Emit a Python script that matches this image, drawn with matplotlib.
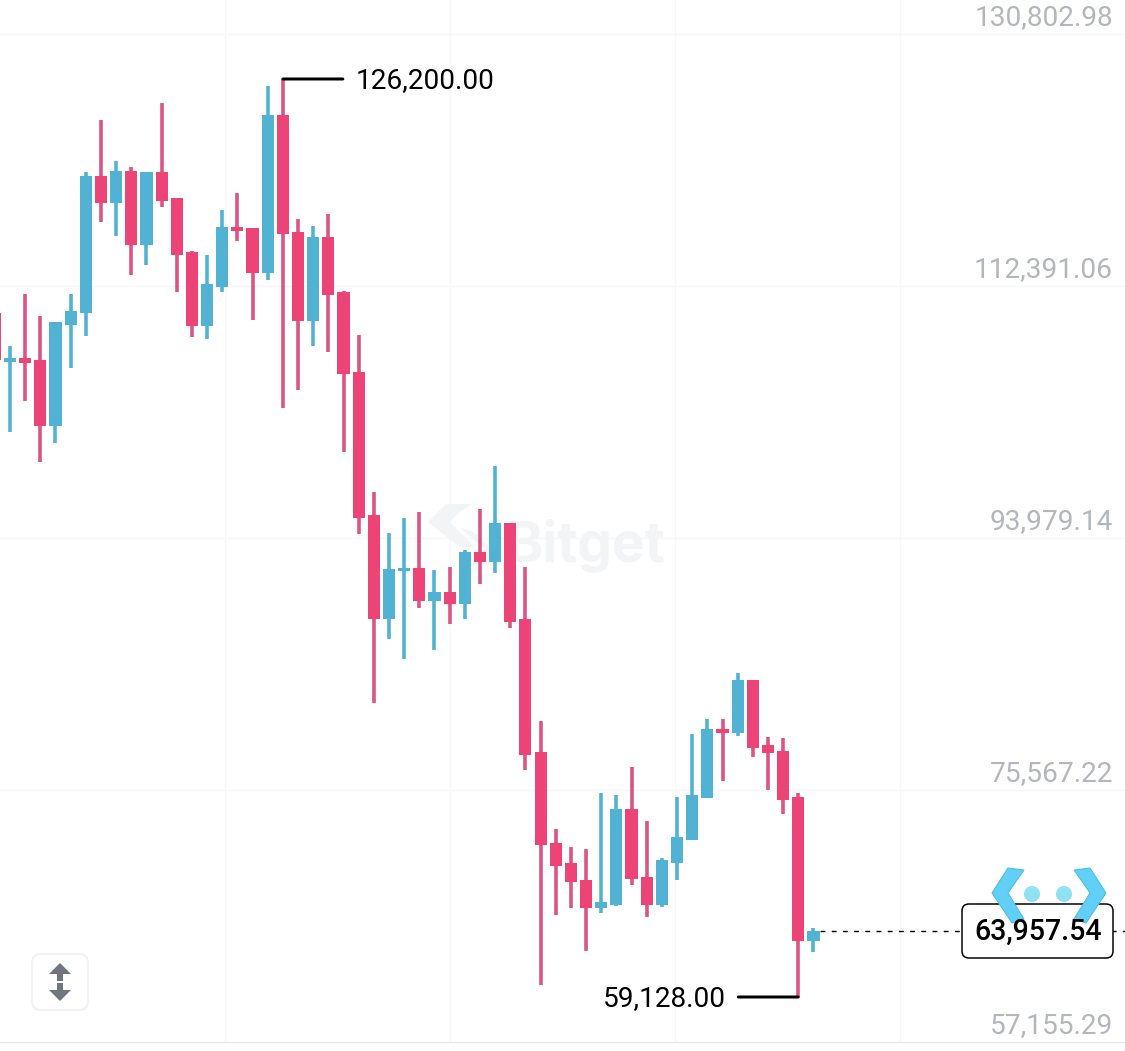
"""
BTC candlestick screenshot rebuilt with matplotlib.
"""

import matplotlib

matplotlib.use("Agg")
import matplotlib.pyplot as plt
import numpy as np
from matplotlib.patches import Circle, FancyBboxPatch, Polygon
from matplotlib.transforms import Affine2D, ScaledTranslation

plt.rcParams["font.family"] = ["Roboto", "DejaVu Sans"]

opens = [
    109103, 105523, 105815, 105669, 100847, 108226, 109081, 119135, 117140, 119478, 114093,
    119383, 117505, 113582, 108131, 111003, 115365, 115313, 112047, 123548, 115021, 108540,
    114634, 110637, 104792, 94322, 86724, 90231, 90472, 88039, 88718, 87842, 91619, 90888,
    93738, 86746, 77028, 70380, 68897, 67698, 65657, 65850, 72864, 67917, 65850, 68897,
    70599, 73689, 78731, 78438, 82289, 77540, 77123, 73741, 63220,
]
highs = [
    109103, 106692, 110469, 108906, 108445, 110469, 119427, 123182, 120187, 119748, 119383,
    124446, 117527, 113611, 113341, 116629, 117871, 115335, 125666, 126200, 115949, 115460,
    116358, 110710, 107474, 96025, 93029, 94147, 94542, 90304, 90545, 91765, 94761, 97902,
    93738, 90567, 79293, 71381, 70087, 69963, 74033, 73865, 75954, 71965, 69262, 73763,
    78322, 79418, 79440, 82778, 82311, 78146, 78029, 74033, 64147,
]
lows = [
    105669, 100409, 102674, 98195, 99627, 105106, 107444, 115752, 114707, 111901, 112632,
    116826, 110659, 107328, 107225, 110616, 114342, 108614, 111535, 102162, 103499, 106692,
    106275, 98969, 92978, 80630, 85263, 83823, 87571, 84459, 86402, 86768, 89303, 90107,
    86066, 75691, 60005, 65097, 65631, 62489, 65265, 65799, 67333, 64951, 65703, 67698,
    70577, 73668, 74931, 78197, 76685, 74252, 72477, 59128, 62395,
]
closes = [
    105669, 105815, 105472, 100847, 108445, 109271, 119135, 117140, 119478, 114093, 119383,
    117308, 113363, 108131, 111222, 115365, 115094, 112047, 123548, 114853, 108540, 114634,
    110418, 104624, 94147, 86724, 90421, 90472, 88039, 88718, 87842, 91619, 90888, 93738,
    86548, 76831, 70212, 68721, 67530, 65657, 66047, 72864, 67749, 65873, 69116, 70818,
    73865, 78731, 78438, 82267, 77321, 76933, 73543, 63220, 63957.54,
]

scale_ticks = [130802.98, 112391.06, 93979.14, 75567.22, 57155.29]
scale_labels = ["130,802.98", "112,391.06", "93,979.14", "75,567.22", "57,155.29"]
period_high = 126200.00
period_low = 59128.00
last_price = 63957.54

UP_COLOR = "#52B2D3"
DOWN_COLOR = "#ED4478"
DOWN_WICK = "#DC5483"
FONT_PX = 28
GRID_FAINT = "#F7F7FA"


def pts(pixels):
    """Pixels at 100 dpi to points."""
    return pixels * 0.72


fig = plt.figure(figsize=(11.25, 10.51), dpi=100, facecolor="white")
ax = fig.add_axes([0, 0, 1, 1])
for spine in ax.spines.values():
    spine.set_visible(False)

# screen coordinates, y going down, for the decorations on top of the chart
px = Affine2D().scale(1, -1).translate(0, 1051)

x = np.arange(len(opens))
o, h, l, c = map(np.array, (opens, highs, lows, closes))
is_up = c >= o
body_colors = [UP_COLOR if up else DOWN_COLOR for up in is_up]
wick_colors = [UP_COLOR if up else DOWN_WICK for up in is_up]

ax.vlines(x, l, h, colors=wick_colors, linewidth=pts(3.6), zorder=3)
ax.bar(x, np.abs(c - o), bottom=np.minimum(o, c), width=0.8, color=body_colors, zorder=4)

ax.set_xlim(0.34, 74.55)
ax.set_ylim(55182.6, 131971.8)
ax.set_xticks([])

# price scale, printed inside the plot on the right
ax.yaxis.tick_right()
ax.set_yticks(scale_ticks)
ax.set_yticklabels(scale_labels, ha="right", va="center", fontsize=pts(FONT_PX), color="#B3B6BD")
ax.tick_params(axis="y", length=0, pad=-pts(12))
label_shift = ScaledTranslation(0, -2 / 100, fig.dpi_scale_trans)
for label in ax.get_yticklabels():
    label.set_transform(label.get_transform() + label_shift)

# grid sits 18 px under each scale label
grid_shift = ax.get_yaxis_transform() + ScaledTranslation(0, -18 / 100, fig.dpi_scale_trans)
for tick in scale_ticks:
    color = "#E6E7EA" if tick == scale_ticks[-1] else GRID_FAINT
    ax.plot([0, 1], [tick, tick], color=color, lw=pts(1.3), transform=grid_shift, zorder=1)
for gx in [225, 450, 675, 900]:
    ax.plot([gx, gx], [0, 1041], color=GRID_FAINT, lw=pts(1.3), transform=px, zorder=1)

# watermark
for pts_list in [
    [(472, 504), (446, 504), (428, 522), (460, 547), (475, 547), (450, 522), (458, 513)],
    [(472, 531), (494, 550), (486, 566), (470, 566), (485, 549), (460, 528)],
]:
    ax.add_patch(Polygon(pts_list, closed=True, color="#F3F4F6", lw=0, transform=px, zorder=2))
ax.text(506, 562, "Bitget", transform=px, fontsize=pts(55), fontweight="bold", color="#F3F4F6",
        family=["Inter", "DejaVu Sans"], ha="left", va="baseline", zorder=2)

# high and low markers
hi_x = x[np.argmax(h)]
lo_x = x[np.argmin(l)]
ax.annotate("", xy=(hi_x, period_high), xytext=(60, 0), textcoords="offset pixels",
            arrowprops=dict(arrowstyle="-", lw=pts(3), color="black", shrinkA=0, shrinkB=0), zorder=5)
ax.annotate(f"{period_high:,.2f}", xy=(hi_x, period_high), xytext=(73, -2), textcoords="offset pixels",
            ha="left", va="center", fontsize=pts(FONT_PX), color="black", zorder=5)
ax.annotate("", xy=(lo_x, period_low), xytext=(-60, 0), textcoords="offset pixels",
            arrowprops=dict(arrowstyle="-", lw=pts(3), color="black", shrinkA=0, shrinkB=0), zorder=5)
ax.annotate(f"{period_low:,.2f}", xy=(lo_x, period_low), xytext=(-72, -2), textcoords="offset pixels",
            ha="right", va="center", fontsize=pts(FONT_PX), color="black", zorder=5)

# last price line and tag
ax.hlines(last_price, x[-1] + 0.45, 75, colors="black", linewidth=pts(1.4),
          linestyles=(0, (3.5, 4.5)), zorder=3)
ax.add_patch(FancyBboxPatch((962, 904), 151, 54, boxstyle="round,pad=0,rounding_size=7",
                            fc="white", ec="black", lw=pts(1.5), transform=px, zorder=6))

# cyan chevrons around the tag
for points in [
    [(1008, 868), (1024, 870), (1008, 893), (1024, 919), (1012, 923), (992, 893)],
    [(1090, 868), (1074, 870), (1090, 893), (1074, 919), (1086, 923), (1106, 893)],
]:
    ax.add_patch(Polygon(points, closed=True, fc="#62CFF6", ec="#45BDE8", lw=pts(1), transform=px, zorder=7))
for cx in [1032, 1064]:
    ax.add_patch(Circle((cx, 894), 8, fc="#8FE2F5", ec="none", transform=px, zorder=7))

ax.annotate(f"{last_price:,.2f}", xy=(0, last_price), xycoords=("axes fraction", "data"),
            xytext=(1038, -1), textcoords=("figure pixels", "offset pixels"), ha="center", va="center",
            fontsize=pts(28.5), fontweight="medium", color="black", zorder=8)

# scale toggle button
ax.add_patch(FancyBboxPatch((32, 954), 56, 56, boxstyle="round,pad=0,rounding_size=9",
                            fc="white", ec="#F1F2F4", lw=pts(2.2), transform=px, zorder=6))
for points in [
    [(60, 963), (71, 974), (63, 974), (63, 981), (57, 981), (57, 974), (49, 974)],
    [(60, 1001), (71, 990), (63, 990), (63, 983), (57, 983), (57, 990), (49, 990)],
]:
    ax.add_patch(Polygon(points, closed=True, fc="#6F7680", ec="none", transform=px, zorder=7))

fig.savefig("out.png", dpi=100)
